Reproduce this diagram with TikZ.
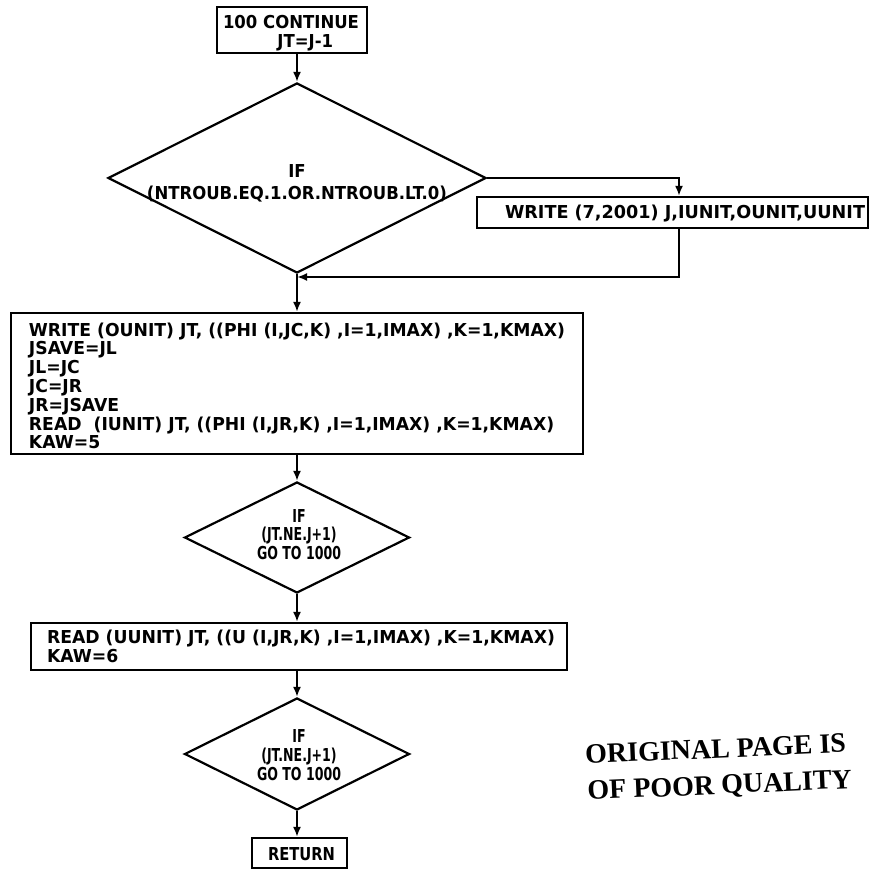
\documentclass[tikz,border=0pt]{standalone}
\usepackage{fontspec}
\usepackage{graphicx}
\usetikzlibrary{shapes.geometric,arrows.meta}
\newfontfamily\plotfont{DejaVu Sans}
\newfontfamily\stampfont{Liberation Serif}
% #1 horizontal shift (x2), #2 raise of first baseline, #3 width of widest line, #4 alignment, #5 line spacing, #6 text
\newcommand\ptext[6]{\makebox[0pt]{\hspace*{#1}\raisebox{#2}[0pt][0pt]{\fontsize{17.8}{#5}\selectfont\bfseries\resizebox{#3}{\height}{\begin{tabular}[t]{@{}#4@{}}#6\end{tabular}}}}}
\tikzset{
  every node/.style={font=\plotfont, inner sep=0pt},
  boxnode/.style={draw, rectangle, line width=2.2pt},
  decision/.style={draw, diamond, aspect=2, line width=2.2pt},
  link/.style={line width=2.2pt, -{Latex[length=10pt,width=8pt]}},
  stamp/.style={font=\stampfont\bfseries\fontsize{28}{30}\selectfont, rotate=2.5, anchor=base},
}
\begin{document}
\begin{tikzpicture}[x=1pt,y=-1pt]
\useasboundingbox (0,0) rectangle (887,869);
\node[boxnode, minimum width=150pt, minimum height=46pt] (top) at (292,30)
  {\ptext{-2pt}{1pt}{136pt}{l}{18pt}{100 CONTINUE\\\hspace*{3.3em}JT=J-1}};
\node[decision, minimum width=378pt, minimum height=190pt] (d1) at (297,178)
  {\ptext{0pt}{0pt}{300pt}{c}{21.5pt}{IF\\(NTROUB.EQ.1.OR.NTROUB.LT.0)}};
\node[boxnode, minimum width=391pt, minimum height=31pt] (w7) at (672.5,212.5)
  {\ptext{25pt}{-6.5pt}{360pt}{l}{18pt}{WRITE (7,2001) J,IUNIT,OUNIT,UUNIT}};
\node[boxnode, minimum width=572pt, minimum height=141pt] (big) at (297,383.5)
  {\ptext{0pt}{47.5pt}{536pt}{l}{18.5pt}{WRITE (OUNIT) JT, ((PHI (I,JC,K) ,I=1,IMAX) ,K=1,KMAX)\\JSAVE=JL\\JL=JC\\JC=JR\\JR=JSAVE\\READ~~(IUNIT) JT, ((PHI (I,JR,K) ,I=1,IMAX) ,K=1,KMAX)\\KAW=5}};
\node[decision, minimum width=225pt, minimum height=111pt] (d2) at (297,537.5)
  {\ptext{4pt}{15.5pt}{84pt}{c}{18pt}{IF\\(JT.NE.J+1)\\GO TO 1000}};
\node[boxnode, minimum width=536pt, minimum height=47pt] (rd) at (299,646.5)
  {\ptext{4pt}{3.5pt}{508pt}{l}{19.5pt}{READ (UUNIT) JT, ((U (I,JR,K) ,I=1,IMAX) ,K=1,KMAX)\\KAW=6}};
\node[decision, minimum width=225pt, minimum height=112pt] (d3) at (297,754)
  {\ptext{4pt}{12pt}{84pt}{c}{19pt}{IF\\(JT.NE.J+1)\\GO TO 1000}};
\node[boxnode, minimum width=95pt, minimum height=30pt] (ret) at (299.5,853)
  {\ptext{4pt}{-7.5pt}{67pt}{c}{18pt}{RETURN}};
\node[stamp] (stamp1) at (716,758) {ORIGINAL PAGE IS};
\node[stamp] (stamp2) at (720,794) {OF POOR QUALITY};
\coordinate (bx) at (679,177);
\coordinate (mj) at (297,277);
\draw[link] (d1.north |- top.south) -- (d1.north);
\draw[link] (d1.east) -| (bx |- w7.north);
\draw[link] (bx |- w7.south) |- (mj);
\draw[link] (d1.south) -- (d1.south |- big.north);
\draw[link] (d2.north |- big.south) -- (d2.north);
\draw[link] (d2.south) -- (d2.south |- rd.north);
\draw[link] (d3.north |- rd.south) -- (d3.north);
\draw[link] (d3.south) -- (d3.south |- ret.north);
\end{tikzpicture}
\end{document}
